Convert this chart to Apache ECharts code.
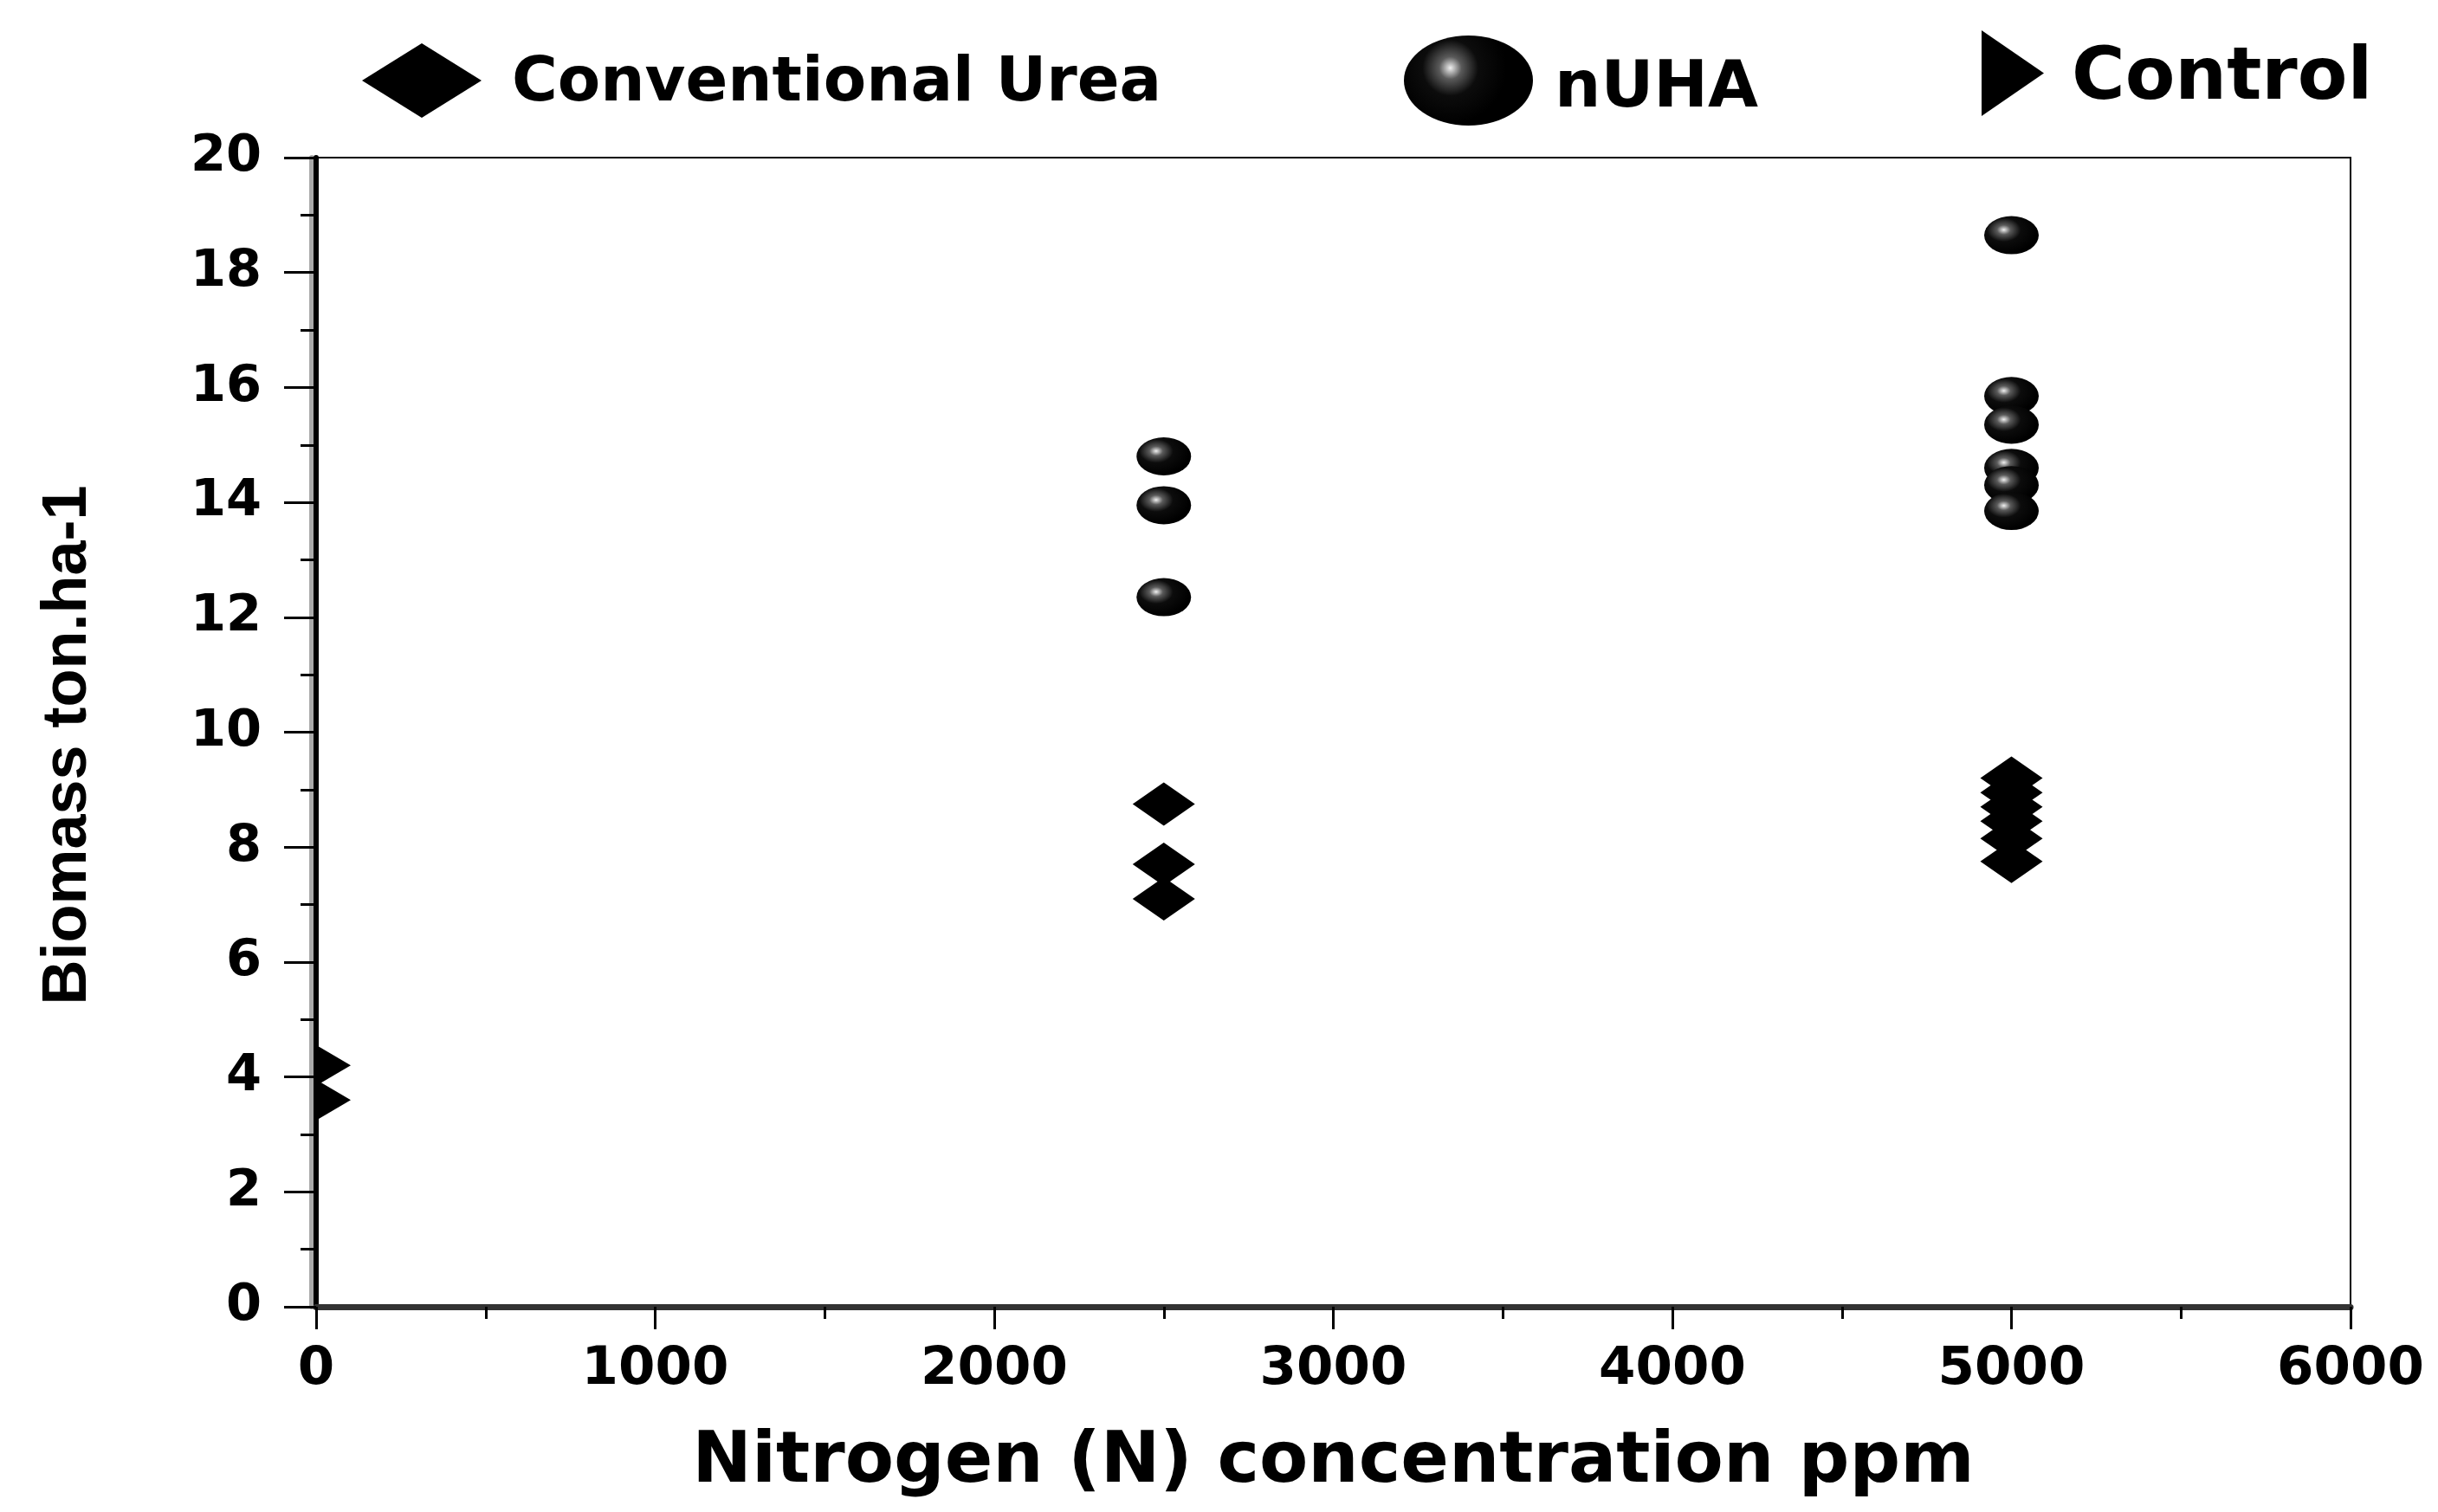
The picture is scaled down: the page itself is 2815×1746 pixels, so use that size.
<!DOCTYPE html>
<html>
<head>
<meta charset="utf-8">
<script src="https://cdn.jsdelivr.net/npm/echarts@6/dist/echarts.min.js"></script>
<style>
html,body{margin:0;padding:0;background:#fff;}
#chart{width:2815px;height:1746px;}
</style>
</head>
<body>
<div id="chart"></div>
<script>
// ---- data ----
const seriesNames = ['Conventional Urea', 'nUHA', 'Control'];
const ureaX = [2500, 2500, 2500, 5000, 5000, 5000, 5000, 5000, 5000];
const ureaY = [8.75, 7.7, 7.1, 9.2, 8.95, 8.7, 8.45, 8.15, 7.75];
const nuhaX = [2500, 2500, 2500, 5000, 5000, 5000, 5000, 5000, 5000];
const nuhaY = [14.8, 13.95, 12.35, 18.65, 15.85, 15.35, 14.6, 14.3, 13.85];
const controlX = [0, 0];
const controlY = [4.2, 3.6];
const xTicks = [0, 1000, 2000, 3000, 4000, 5000, 6000];
const yTicks = [0, 2, 4, 6, 8, 10, 12, 14, 16, 18, 20];

const pairs = (xs, ys) => xs.map((x, i) => [x, ys[i]]);

const sphere = {
  type: 'radial', x: 0.36, y: 0.36, r: 0.62,
  colorStops: [
    {offset: 0, color: '#f0f0f0'},
    {offset: 0.2, color: '#5a5a5a'},
    {offset: 0.5, color: '#0c0c0c'},
    {offset: 1, color: '#000'}
  ]
};
const triPath = 'path://M0,0 L10,5 L0,10 Z';
const ellipsePath = 'path://M0,50 A50,50 0 1,1 100,50 A50,50 0 1,1 0,50 Z';
const wide = "'DejaVu Sans', sans-serif";

function legendText(size, padTop, padLeft) {
  return {
    formatter: n => '{t|' + n + '}',
    textStyle: {
      color: '#000',
      rich: {t: {fontFamily: wide, fontWeight: 'bold', fontSize: size, color: '#000', padding: [padTop, 0, 0, padLeft]}}
    }
  };
}

const chart = echarts.init(document.getElementById('chart'));
chart.setOption({
  backgroundColor: '#fff',
  animation: false,
  grid: {left: 365, right: 101, top: 182, bottom: 237, show: true, borderColor: '#000', borderWidth: 2, backgroundColor: 'transparent'},
  legend: [
    Object.assign({data: [{name: seriesNames[0], icon: 'diamond'}], left: 413, top: 45, itemWidth: 138, itemHeight: 86, selectedMode: false, symbolKeepAspect: false,
     itemStyle: {opacity: 1}}, legendText(72, 8, 30)),
    Object.assign({data: [{name: seriesNames[1], icon: ellipsePath, itemStyle: {color: sphere, opacity: 1}}], left: 1616, top: 36, itemWidth: 149, itemHeight: 104, selectedMode: false, symbolKeepAspect: false},
     legendText(75, 22, 20)),
    Object.assign({data: [{name: seriesNames[2], icon: triPath}], left: 2283, top: 30, itemWidth: 72, itemHeight: 99, selectedMode: false, symbolKeepAspect: false,
     itemStyle: {opacity: 1}}, legendText(84, 16, 27))
  ],
  xAxis: {
    type: 'value', min: 0, max: 6000, interval: 1000,
    name: 'Nitrogen (N) concentration ppm', nameLocation: 'middle', nameGap: 140,
    nameTextStyle: {fontFamily: wide, fontWeight: 'bold', fontSize: 82, color: '#000'},
    axisLine: {show: true, lineStyle: {color: '#333', width: 7}},
    axisTick: {show: true, inside: false, length: 26, lineStyle: {color: '#000', width: 3}},
    minorTick: {show: true, splitNumber: 2, length: 14, lineStyle: {color: '#000', width: 3}},
    axisLabel: {margin: 43, fontFamily: wide, fontWeight: 'bold', fontSize: 61, color: '#000',
      formatter: v => xTicks.includes(v) ? String(v) : ''},
    splitLine: {show: false}
  },
  yAxis: {
    type: 'value', min: 0, max: 20, interval: 2,
    name: 'Biomass ton.ha-1', nameLocation: 'middle', nameGap: 250,
    nameTextStyle: {fontFamily: "'Liberation Sans', Arial, sans-serif", fontWeight: 'bold', fontSize: 72, color: '#000', padding: [0, 30, 0, 0]},
    axisLine: {show: true, lineStyle: {color: '#000', width: 6, shadowColor: '#aaa', shadowOffsetX: -5}},
    axisTick: {show: true, inside: false, length: 37, lineStyle: {color: '#000', width: 3}},
    minorTick: {show: true, splitNumber: 2, length: 18, lineStyle: {color: '#000', width: 3}},
    axisLabel: {margin: 63, fontFamily: wide, fontWeight: 'bold', fontSize: 59, color: '#000',
      formatter: v => yTicks.includes(v) ? String(v) : ''},
    splitLine: {show: false}
  },
  series: [
    {name: seriesNames[0], type: 'scatter', data: pairs(ureaX, ureaY), symbol: 'diamond', symbolSize: [72, 50],
     itemStyle: {color: '#000', opacity: 1}, z: 3},
    {name: seriesNames[1], type: 'scatter', data: pairs(nuhaX, nuhaY), symbol: 'circle', symbolSize: [63, 44],
     itemStyle: {color: sphere, opacity: 1}, z: 3},
    {name: seriesNames[2], type: 'scatter', data: pairs(controlX, controlY), symbol: triPath, symbolSize: [40, 47],
     symbolOffset: [20, 0], symbolKeepAspect: false, itemStyle: {color: '#000', opacity: 1}, z: 3}
  ]
});
</script>
</body>
</html>
